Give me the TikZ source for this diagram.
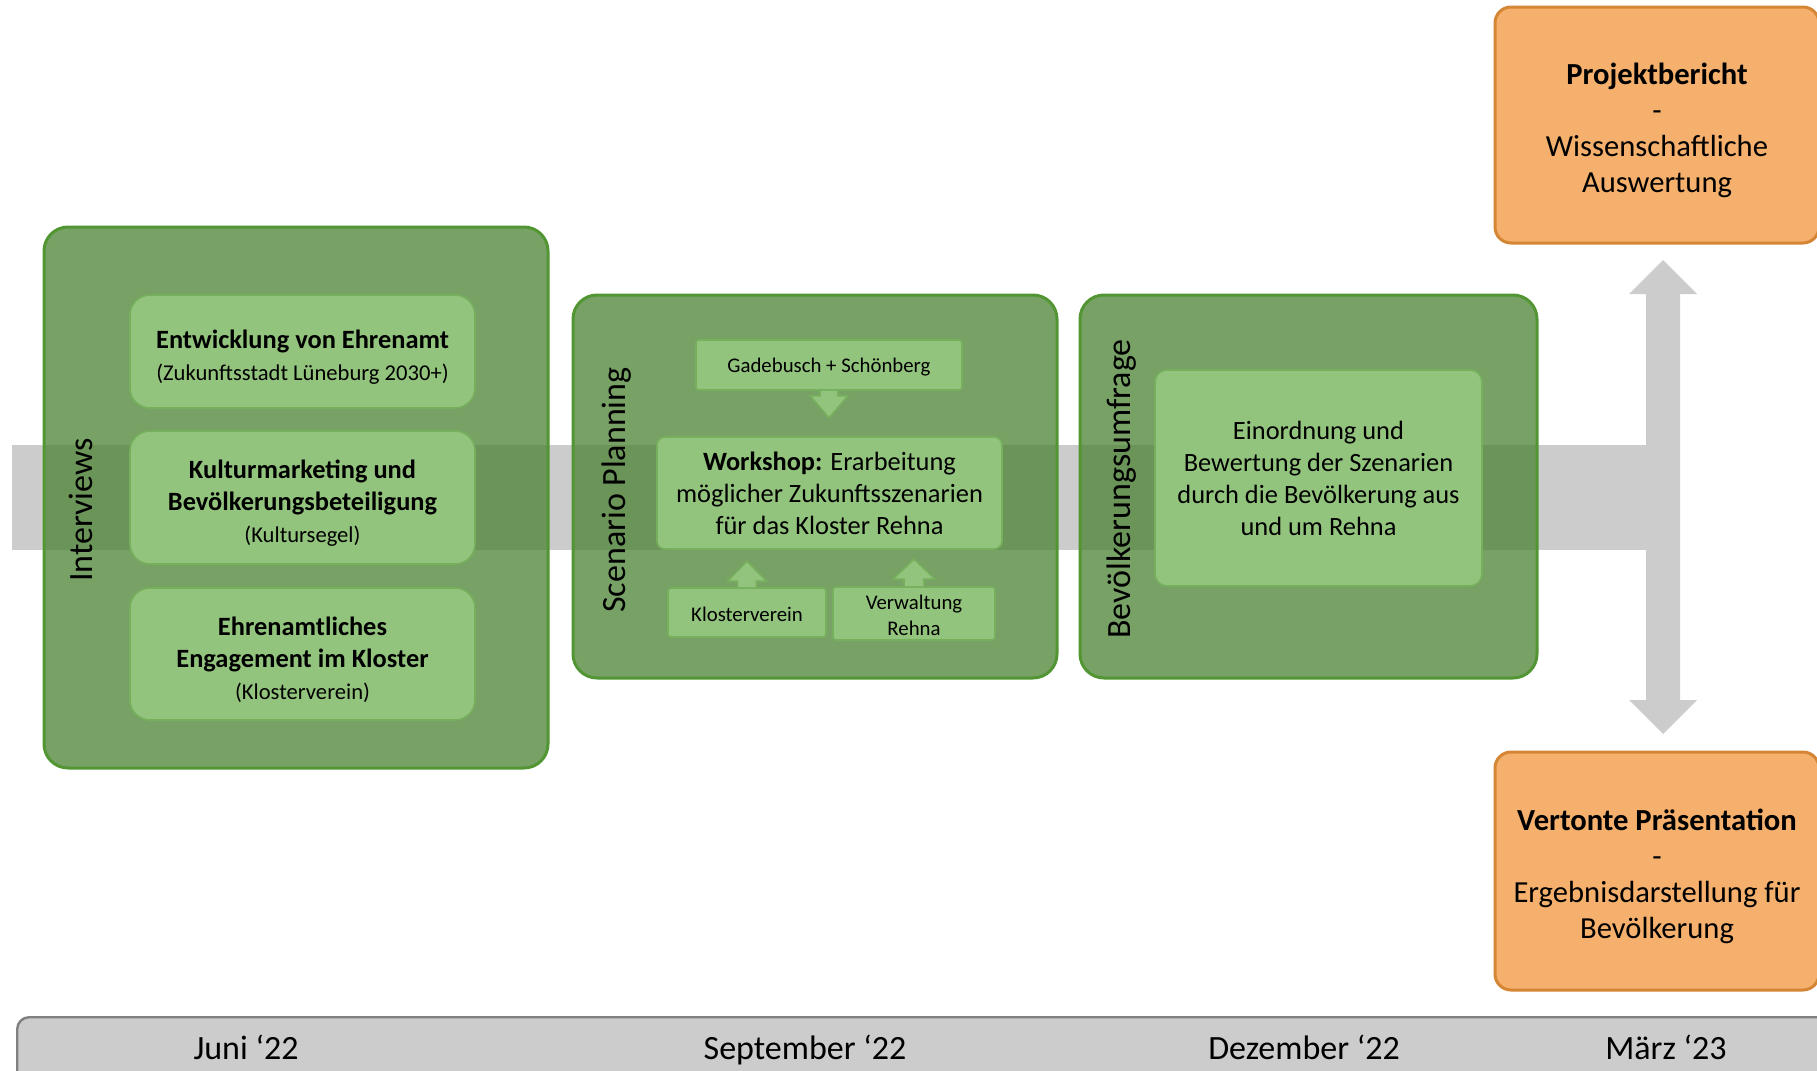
\documentclass[tikz,border=0pt]{standalone}
\usepackage{fontspec}
\setmainfont{Carlito}
\usetikzlibrary{calc}

\definecolor{bandgray}{RGB}{204,204,204}
\definecolor{phasefill}{RGB}{75,131,50}
\definecolor{phaseline}{RGB}{82,150,52}
\definecolor{itemfill}{RGB}{147,196,125}
\definecolor{itemline}{RGB}{118,176,92}
\definecolor{resfill}{RGB}{244,176,108}
\definecolor{resline}{RGB}{212,134,52}
\definecolor{barline}{RGB}{128,128,128}

\newcommand{\txt}{\fontsize{13.2}{16}\selectfont}
\newcommand{\subtxt}[1]{{\fontsize{11.3}{15.5}\selectfont #1}}
\newcommand{\lift}[1]{\rule{0pt}{#1}} % extra room above first line

\begin{document}
\begin{tikzpicture}[x=.5pt, y=-.5pt,
	phase/.style={draw=phaseline, line width=1.5pt, fill=phasefill, fill opacity=.75, rounded corners=12pt, inner sep=0pt},
	item/.style={draw=itemline, line width=.8pt, fill=itemfill, rounded corners=10pt, align=center, inner sep=0pt, font=\txt},
	smallitem/.style={item, rounded corners=1.5pt, font=\fontsize{10.4}{13}\selectfont},
	result/.style={draw=resline, line width=1.5pt, fill=resfill, rounded corners=8pt, align=center, inner sep=0pt, font=\fontsize{15.3}{18}\selectfont},
	phaselabel/.style={rotate=90, font=\fontsize{17}{20}\selectfont},
	month/.style={anchor=base, font=\fontsize{17}{20}\selectfont},
	subarrow/.style={draw=itemline, line width=.8pt, fill=itemfill}]
	\useasboundingbox (0,0) rectangle (1817,1071);

	% timeline band and double arrow
	\fill[bandgray] (12,445) rectangle (1680,550);
	\fill[bandgray] (1646,294) -- (1629,294) -- (1663,260) -- (1697,294) -- (1680,294)
		-- (1680,700) -- (1697,700) -- (1663,734) -- (1629,700) -- (1646,700) -- cycle;

	% phase 1
	\node[phase, minimum width=252pt, minimum height=270.5pt] (p1) at (296,497.5) {};
	\node[phaselabel] (l1) at (81,510) {Interviews};
	\node[item, minimum width=172.5pt, minimum height=56.5pt] (i1) at (302.5,351.5)
		{\lift{15pt}\textbf{Entwicklung von Ehrenamt}\\ \subtxt{(Zukunftsstadt Lüneburg 2030+)}};
	\node[item, minimum width=172.5pt, minimum height=66.5pt] (i2) at (302.5,497.5)
		{\lift{15pt}\textbf{Kulturmarketing und}\\ \textbf{Bevölkerungsbeteiligung}\\ \subtxt{(Kultursegel)}};
	\node[item, minimum width=172.5pt, minimum height=66pt] (i3) at (302.5,654)
		{\lift{15pt}\textbf{Ehrenamtliches}\\ \textbf{Engagement im Kloster}\\ \subtxt{(Klosterverein)}};

	% phase 2
	\node[phase, minimum width=242pt, minimum height=191.5pt] (p2) at (815,486.5) {};
	\node[phaselabel] (l2) at (617,490) {Scenario Planning};
	\node[smallitem, minimum width=133pt, minimum height=25pt] (gade) at (829,365) {\lift{9.5pt}Gadebusch + Schönberg};
	\node[item, rounded corners=4pt, minimum width=172.5pt, minimum height=56pt] (ws) at (829.5,493)
		{\textbf{Workshop:} Erarbeitung\\ möglicher Zukunftsszenarien\\ für das Kloster Rehna};
	\node[smallitem, minimum width=79pt, minimum height=24.5pt] (kv) at (747,612.5) {\lift{9.5pt}Klosterverein};
	\node[smallitem, minimum width=81pt, minimum height=26.5pt] (vw) at (914,613.5) {\lift{9.5pt}Verwaltung\\ Rehna};
	\draw[subarrow] ($(gade.south)+(-9,0)$) -- ++(0,5) -- ++(-10,0) -- ++(19,22) -- ++(19,-22) -- ++(-10,0) -- ++(0,-5);
	\draw[subarrow] ($(kv.north)+(-9.5,0)$) -- ++(0,-6) -- ++(-10,0) -- ++(19.5,-20) -- ++(19.5,20) -- ++(-10,0) -- ++(0,6);
	\draw[subarrow] ($(vw.north)+(-10,0)$) -- ++(0,-7) -- ++(-11,0) -- ++(21,-20) -- ++(21,20) -- ++(-11,0) -- ++(0,7);

	% phase 3
	\node[phase, minimum width=228.5pt, minimum height=191.5pt] (p3) at (1308.5,486.5) {};
	\node[phaselabel] (l3) at (1122,489) {Bevölkerungsumfrage};
	\node[item, rounded corners=6pt, minimum width=163.5pt, minimum height=108pt] (eval) at (1318.5,478)
		{Einordnung und\\ Bewertung der Szenarien\\ durch die Bevölkerung aus\\ und um Rehna};

	% results
	\node[result, minimum width=162pt, minimum height=118pt] (r1) at (1657,125)
		{\lift{16pt}\textbf{Projektbericht}\\ -\\ Wissenschaftliche\\ Auswertung};
	\node[result, minimum width=162pt, minimum height=119pt] (r2) at (1657,871)
		{\lift{16pt}\textbf{Vertonte Präsentation}\\ -\\ Ergebnisdarstellung für\\ Bevölkerung};

	% month bar
	\node[draw=barline, line width=1.2pt, fill=bandgray, rounded corners=6pt, anchor=north west,
		minimum width=920pt, minimum height=50pt] (bar) at (16,1016) {};
	\node[month] (m1) at (246,1059) {Juni ‘22};
	\node[month] (m2) at (805,1059) {September ‘22};
	\node[month] (m3) at (1304,1059) {Dezember ‘22};
	\node[month] (m4) at (1666,1059) {März ‘23};
\end{tikzpicture}
\end{document}
